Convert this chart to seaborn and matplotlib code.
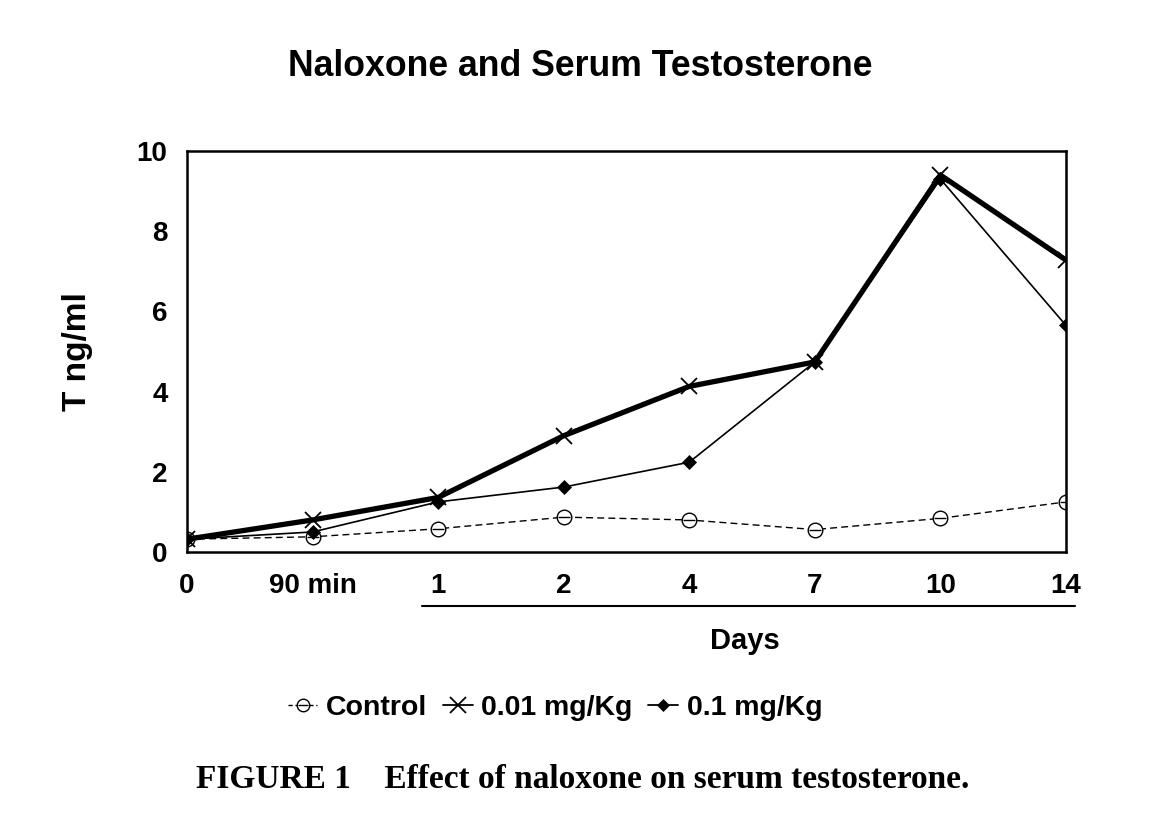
import numpy as np
import pandas as pd
import seaborn as sns
import matplotlib
matplotlib.use("Agg")
import matplotlib.pyplot as plt
from matplotlib.lines import Line2D
from matplotlib.legend_handler import HandlerTuple

# ---- data ----
time_labels = ["0", "90 min", "1", "2", "4", "7", "10", "14"]
control = [0.32, 0.38, 0.58, 0.87, 0.80, 0.56, 0.84, 1.25]
dose_001 = [0.32, 0.80, 1.36, 2.90, 4.13, 4.74, 9.40, 7.28]
dose_01 = [0.32, 0.50, 1.25, 1.62, 2.24, 4.74, 9.30, 5.65]
series_names = ["Control", "0.01 mg/Kg", "0.1 mg/Kg"]
y_ticks = [0, 2, 4, 6, 8, 10]

sns.set_style("white")
plt.rcParams["font.family"] = ["Liberation Sans", "DejaVu Sans"]
plt.rcParams["font.weight"] = "bold"
for k in ["text.color", "axes.labelcolor", "xtick.color", "ytick.color"]:
    plt.rcParams[k] = "black"

pos = np.arange(len(time_labels))
df = pd.DataFrame({
    "pos": np.tile(pos, 3),
    "value": control + dose_001 + dose_01,
    "series": np.repeat(series_names, len(time_labels)),
})

fig = plt.figure(figsize=(11.7, 8.31), dpi=100)
ax = fig.add_axes([0.1598, 0.3357, 0.9111 - 0.1598, 0.8183 - 0.3357])

# Control: dashed line with open circles, plus a bar through each circle
sub = df[df["series"] == "Control"]
sns.lineplot(data=sub, x="pos", y="value", ax=ax, color="black", linewidth=1.0,
             linestyle=(0, (5, 3)), marker="o", markersize=10.5, markeredgewidth=1.0,
             markerfacecolor="white", markeredgecolor="black",
             legend=False, errorbar=None)
sns.lineplot(data=sub, x="pos", y="value", ax=ax, color="black", linewidth=0,
             marker="_", markersize=8, markeredgewidth=1.0,
             markeredgecolor="black", markerfacecolor="black",
             legend=False, errorbar=None)

sub = df[df["series"] == "0.01 mg/Kg"]
sns.lineplot(data=sub, x="pos", y="value", ax=ax, color="black", linewidth=3.8,
             marker="x", markersize=12, markeredgewidth=1.3,
             markeredgecolor="black", legend=False, errorbar=None)

sub = df[df["series"] == "0.1 mg/Kg"]
sns.lineplot(data=sub, x="pos", y="value", ax=ax, color="black", linewidth=1.2,
             marker="D", markersize=7, markeredgewidth=0.5,
             markeredgecolor="black", markerfacecolor="black",
             legend=False, errorbar=None)

ax.set_xlim(pos[0], pos[-1])
ax.set_ylim(0, 10)
ax.set_xticks(pos)
ax.set_xticklabels(time_labels)
ax.set_yticks(y_ticks)
ax.tick_params(axis="both", length=0, labelsize=20)
ax.tick_params(axis="x", pad=15)
ax.tick_params(axis="y", pad=14)
for lab in ax.get_xticklabels() + ax.get_yticklabels():
    lab.set_fontweight("bold")
for sp in ax.spines.values():
    sp.set_visible(True)
    sp.set_color("black")
    sp.set_linewidth(1.8)
ax.set_xlabel("")
ax.set_ylabel("T ng/ml", fontsize=24, fontweight="bold")
ax.yaxis.set_label_coords(-0.107, 0.5)

# title
fig.text(580 / 1170, 1 - 67 / 831, "Naloxone and Serum Testosterone",
         ha="center", va="center", fontsize=25.7, fontweight="bold")

# Days label and bracket line
fig.text(745 / 1170, 1 - 641 / 831, "Days", ha="center", va="center",
         fontsize=21, fontweight="bold")
fig.add_artist(Line2D([422 / 1170, 1075 / 1170], [1 - 606 / 831, 1 - 606 / 831],
                      transform=fig.transFigure, color="black", lw=1.5))

# legend
h_ctrl = (Line2D([], [], color="black", lw=1.0, ls=(0, (3, 2)), marker="o", ms=9,
                 mew=1.0, markerfacecolor="white", markeredgecolor="black"),
          Line2D([], [], color="black", lw=0, marker="_", ms=7, mew=1.0))
h_001 = Line2D([], [], color="black", lw=1.3, marker="x", ms=11, mew=1.3)
h_01 = Line2D([], [], color="black", lw=1.3, marker="D", ms=6, mew=0.5,
              markerfacecolor="black", markeredgecolor="black")
leg = fig.legend([h_ctrl, h_001, h_01], series_names, loc="center",
                 bbox_to_anchor=(555 / 1170, 1 - 708 / 831),
                 handler_map={tuple: HandlerTuple(ndivide=1)},
                 ncol=3, frameon=False, handlelength=1.05, handletextpad=0.3,
                 columnspacing=0.55, prop={"size": 20.5, "weight": "bold"})

# caption
fig.text(583 / 1170, 1 - 780 / 831, "FIGURE 1    Effect of naloxone on serum testosterone.",
         ha="center", va="center", fontsize=24, fontweight="bold",
         family=["Liberation Serif", "DejaVu Serif"])

fig.savefig("out.png", dpi=100)
